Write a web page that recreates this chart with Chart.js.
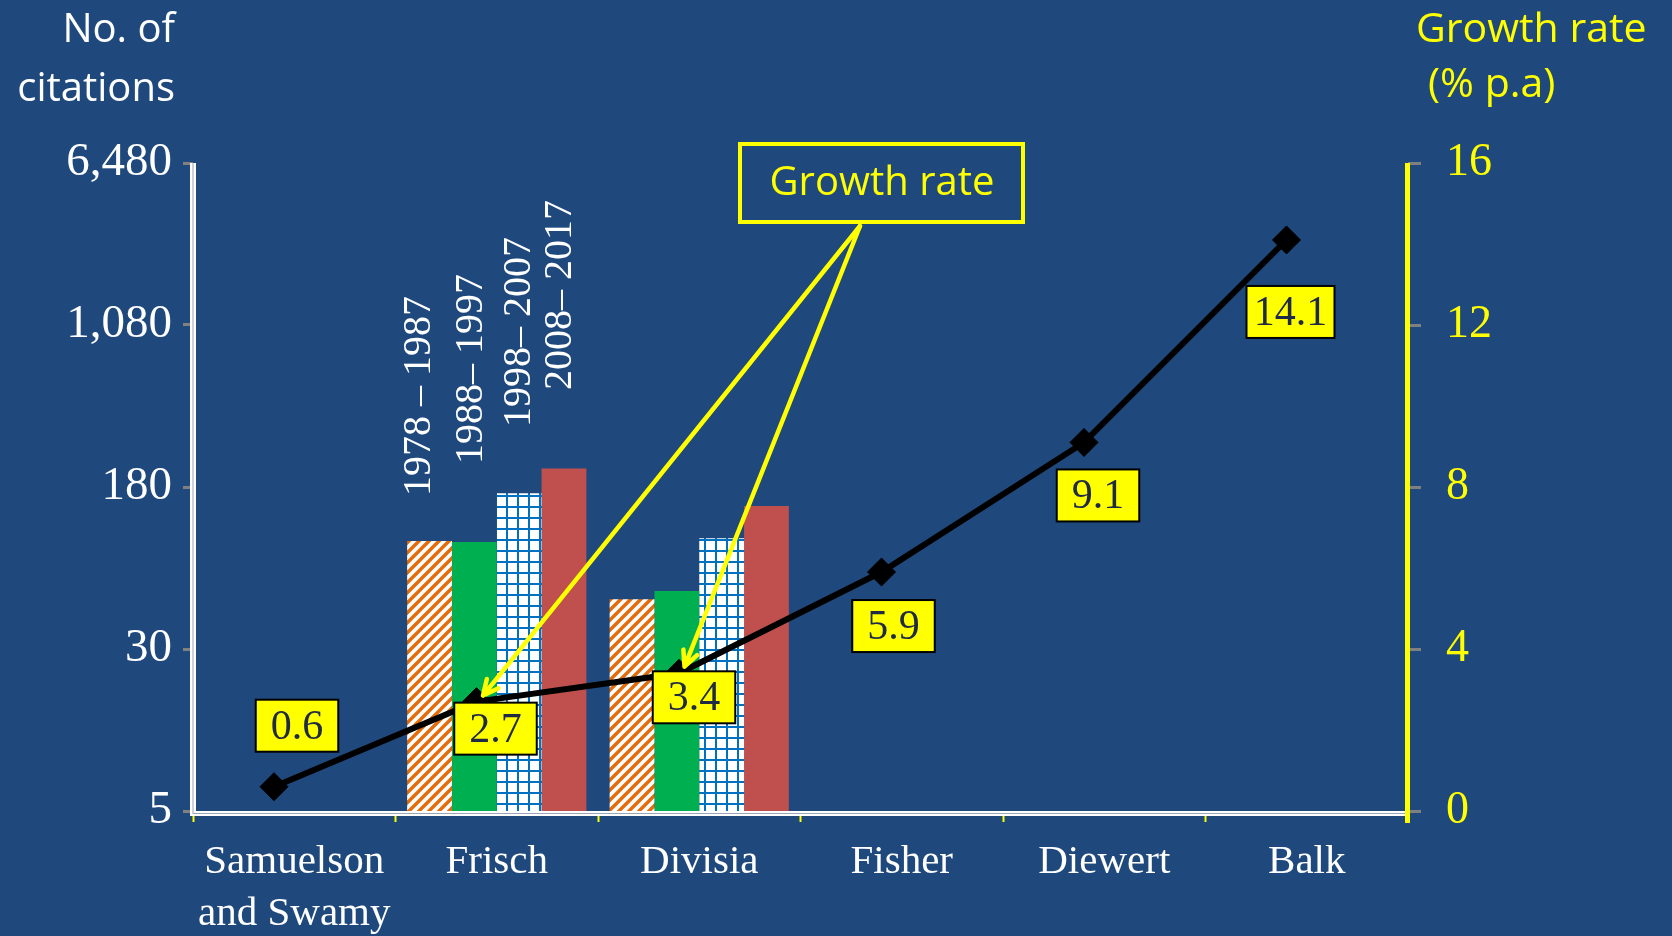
<!DOCTYPE html>
<html>
<head>
<meta charset="utf-8">
<script src="https://cdn.jsdelivr.net/npm/chart.js@4.4.1/dist/chart.umd.min.js"></script>
<style>
  html, body { margin: 0; padding: 0; background: #1F497D; overflow: hidden; }
  #wrap { width: 1672px; height: 936px; }
  canvas { display: block; }
</style>
</head>
<body>
<div id="wrap"><canvas id="c" width="1672" height="936"></canvas></div>
<script>
// ---- data ----
const categories = [['Samuelson', 'and Swamy'], 'Frisch', 'Divisia', 'Fisher', 'Diewert', 'Balk'];
const periods = ['1978 – 1987', '1988– 1997', '1998– 2007', '2008– 2017'];
const citations1978 = [null, 99, 52, null, null, null];
const citations1988 = [null, 98, 57, null, null, null];
const citations1998 = [null, 168, 102, null, null, null];
const citations2008 = [null, 221, 146, null, null, null];
const growthRate = [0.6, 2.7, 3.4, 5.9, 9.1, 14.1];
const citationTicks = [5, 30, 180, 1080, 6480];
const growthTicks = [0, 4, 8, 12, 16];

// ---- layout / style ----
const BG = '#1F497D';
const YELLOW = '#FFFF00';
const SERIF = '"Liberation Serif", "Times New Roman", serif';
const SANS = '"Open Sans", "Noto Sans", sans-serif';
const LINE_SHIFT = -0.1;   // growth line sits a tenth of a category left of centre
const labelOffsets = [[23, -61], [19, 27], [15, 24], [12, 54], [14, 53], [4, 72]];
const periodLabelPos = [[-10, 496], [-3, 464], [0, 427], [-3, 390]]; // x nudge, text start y
const arrowOrigin = [860, 226];

// white tile with orange upward diagonals (x + y = const)
function stripePattern() {
  const s = 10;
  const c = document.createElement('canvas');
  c.width = s; c.height = s;
  const g = c.getContext('2d');
  g.fillStyle = '#FFFFFF'; g.fillRect(0, 0, s, s);
  g.strokeStyle = '#E46C0A'; g.lineWidth = 3.4;
  g.beginPath();
  g.moveTo(-3, 3); g.lineTo(3, -3);
  g.moveTo(-3, s + 3); g.lineTo(s + 3, -3);
  g.moveTo(s - 3, s + 3); g.lineTo(s + 3, s - 3);
  g.stroke();
  return g.createPattern(c, 'repeat');
}
// white tile with a blue square grid
function gridPattern() {
  const s = 11;
  const c = document.createElement('canvas');
  c.width = s; c.height = s;
  const g = c.getContext('2d');
  g.fillStyle = '#FFFFFF'; g.fillRect(0, 0, s, s);
  g.fillStyle = '#0070C0';
  g.fillRect(0, 0, 2, s);
  g.fillRect(0, 0, s, 2);
  return g.createPattern(c, 'repeat');
}

const LINE_INDEX = 4;

const overlay = {
  id: 'overlay',
  afterDatasetsUpdate(chart) {
    // slide the growth-rate points left within their category
    const xs = chart.scales.x;
    const band = xs.getPixelForValue(1) - xs.getPixelForValue(0);
    chart.getDatasetMeta(LINE_INDEX).data.forEach(pt => { pt.x += LINE_SHIFT * band; });
  },
  beforeDraw(chart) {
    const ctx = chart.ctx;
    ctx.save();
    ctx.fillStyle = BG;
    ctx.fillRect(0, 0, chart.width, chart.height);
    ctx.restore();
  },
  afterDraw(chart) {
    const ctx = chart.ctx;
    const ca = chart.chartArea;
    ctx.save();

    // axis lines: white double lines left and bottom, yellow on the right
    ctx.fillStyle = '#FFFFFF';
    ctx.fillRect(ca.left - 3, ca.top, 6, ca.bottom - ca.top + 5);
    ctx.fillRect(ca.left - 3, ca.bottom, ca.right - ca.left, 5);
    ctx.fillStyle = '#9AA6B8';
    ctx.fillRect(ca.left - 0.5, ca.top, 1, ca.bottom - ca.top + 3);
    ctx.fillRect(ca.left, ca.bottom + 2, ca.right - ca.left - 2, 1);
    ctx.fillStyle = YELLOW;
    ctx.fillRect(ca.right - 3, ca.top, 5, ca.bottom - ca.top + 12);

    // axis titles
    ctx.font = '400 40px ' + SANS;
    ctx.textBaseline = 'alphabetic';
    ctx.fillStyle = '#FFFFFF';
    ctx.textAlign = 'right';
    ctx.fillText('No. of', 175, 42);
    ctx.fillText('citations', 175, 101);
    ctx.fillStyle = YELLOW;
    ctx.textAlign = 'left';
    ctx.font = '400 41px ' + SANS;
    ctx.fillText('Growth rate', 1416, 42);
    ctx.fillText('(% p.a)', 1428, 97);

    // period labels above the Frisch bars
    ctx.font = '40px ' + SERIF;
    ctx.fillStyle = '#FFFFFF';
    ctx.textAlign = 'left';
    ctx.textBaseline = 'middle';
    periods.forEach((p, d) => {
      const bar = chart.getDatasetMeta(d).data[1];
      ctx.save();
      ctx.translate(bar.x + periodLabelPos[d][0], periodLabelPos[d][1]);
      ctx.rotate(-Math.PI / 2);
      ctx.fillText(p, 0, 0);
      ctx.restore();
    });

    // value boxes on the growth line
    const lineMeta = chart.getDatasetMeta(LINE_INDEX);
    ctx.font = '42px ' + SERIF;
    ctx.textAlign = 'center';
    ctx.textBaseline = 'middle';
    growthRate.forEach((v, i) => {
      const pt = lineMeta.data[i];
      const cx = pt.x + labelOffsets[i][0];
      const cy = pt.y + labelOffsets[i][1];
      const txt = v.toFixed(1);
      const w = Math.min(88, ctx.measureText(txt).width + 30);
      const h = 52;
      ctx.fillStyle = YELLOW;
      ctx.fillRect(cx - w / 2, cy - h / 2, w, h);
      ctx.strokeStyle = '#000000';
      ctx.lineWidth = 2;
      ctx.strokeRect(cx - w / 2, cy - h / 2, w, h);
      ctx.fillStyle = '#1F2A44';
      ctx.fillText(txt, cx, cy + 2);
    });

    // "Growth rate" callout with arrows to the Frisch and Divisia points
    ctx.strokeStyle = YELLOW;
    ctx.lineWidth = 4;
    ctx.strokeRect(740, 144, 283, 78);
    ctx.fillStyle = YELLOW;
    ctx.font = '400 40px ' + SANS;
    ctx.fillText('Growth rate', 882, 184);

    ctx.lineWidth = 4.5;
    ctx.lineCap = 'round';
    ctx.lineJoin = 'round';
    [1, 2].forEach(i => {
      const pt = lineMeta.data[i];
      const [sx, sy] = arrowOrigin;
      const ang = Math.atan2(pt.y - sy, pt.x - sx);
      const ex = pt.x - Math.cos(ang) * 4 + 4;
      const ey = pt.y - Math.sin(ang) * 4 - 3;
      ctx.beginPath();
      ctx.moveTo(sx, sy);
      ctx.lineTo(ex, ey);
      const hl = 17, ha = 0.45;
      ctx.moveTo(ex - hl * Math.cos(ang - ha), ey - hl * Math.sin(ang - ha));
      ctx.lineTo(ex, ey);
      ctx.lineTo(ex - hl * Math.cos(ang + ha), ey - hl * Math.sin(ang + ha));
      ctx.stroke();
    });

    ctx.restore();
  }
};

const barStyle = { type: 'bar', xAxisID: 'x', yAxisID: 'y', order: 1, borderWidth: 0,
                   categoryPercentage: 0.885, barPercentage: 1.0 };

new Chart(document.getElementById('c'), {
  type: 'bar',
  data: {
    labels: categories,
    datasets: [
      Object.assign({ label: periods[0], data: citations1978, backgroundColor: stripePattern() }, barStyle),
      Object.assign({ label: periods[1], data: citations1988, backgroundColor: '#00B050' }, barStyle),
      Object.assign({ label: periods[2], data: citations1998, backgroundColor: gridPattern() }, barStyle),
      Object.assign({ label: periods[3], data: citations2008, backgroundColor: '#C0504D' }, barStyle),
      {
        type: 'line',
        label: 'Growth rate',
        data: growthRate,
        xAxisID: 'x',
        yAxisID: 'y1',
        order: 0,
        borderColor: '#000000',
        borderWidth: 6,
        tension: 0,
        pointStyle: 'rectRot',
        pointRadius: 14,
        pointBackgroundColor: '#000000',
        pointBorderColor: '#000000',
        pointBorderWidth: 1
      }
    ]
  },
  options: {
    responsive: false,
    animation: false,
    devicePixelRatio: 1,
    layout: { padding: { top: 163, left: 0, right: 0, bottom: 0 } },
    plugins: { legend: { display: false }, tooltip: { enabled: false } },
    scales: {
      x: {
        type: 'category',
        offset: true,
        border: { display: false },
        grid: { offset: true, drawOnChartArea: false, drawTicks: true, tickLength: 11,
                tickColor: YELLOW, tickWidth: 2 },
        ticks: { color: '#FFFFFF', font: { family: SERIF, size: 41, lineHeight: 1.28 },
                 padding: 14, autoSkip: false, maxRotation: 0, minRotation: 0 },
        afterFit(s) { s.height = 125; }
      },
      y: {
        type: 'logarithmic',
        position: 'left',
        min: citationTicks[0],
        max: citationTicks[citationTicks.length - 1],
        border: { display: false },
        grid: { drawOnChartArea: false, drawTicks: true, tickLength: 10, tickColor: '#808080', tickWidth: 3 },
        ticks: { color: '#FFFFFF', font: { family: SERIF, size: 47 }, padding: 11,
                 callback: v => Number(v).toLocaleString('en-US') },
        afterBuildTicks(s) { s.ticks = citationTicks.map(v => ({ value: v })); },
        afterFit(s) { s.width = 193; }
      },
      y1: {
        type: 'linear',
        position: 'right',
        min: growthTicks[0],
        max: growthTicks[growthTicks.length - 1],
        border: { display: false },
        grid: { drawOnChartArea: false, drawTicks: true, tickLength: 13, tickColor: '#808080', tickWidth: 3 },
        ticks: { color: YELLOW, font: { family: SERIF, size: 46 }, padding: 25, stepSize: 4 },
        afterBuildTicks(s) { s.ticks = growthTicks.map(v => ({ value: v })); },
        afterFit(s) { s.width = 264; }
      }
    }
  },
  plugins: [overlay]
});
</script>
</body>
</html>
